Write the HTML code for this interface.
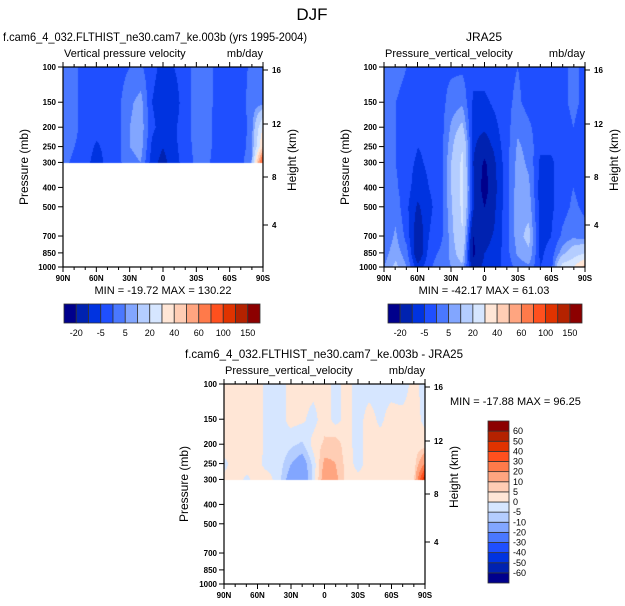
<!DOCTYPE html>
<html><head><meta charset="utf-8">
<style>
html,body{margin:0;padding:0;background:#fff;}
#root{position:relative;width:625px;height:606px;overflow:hidden;font-family:"Liberation Sans",sans-serif;}
canvas{position:absolute;}
svg{position:absolute;left:0;top:0;}
</style></head>
<body>
<div id="root">
<canvas id="c1" width="200" height="200" style="left:63px;top:67px"></canvas>
<canvas id="c2" width="201" height="200" style="left:384px;top:67px"></canvas>
<canvas id="c3" width="201" height="200" style="left:224px;top:384px"></canvas>
<svg id="ov" width="625" height="606"></svg>
</div>
<script>
const lats=[90,80,70,60,50,40,30,20,10,0,-10,-20,-30,-40,-50,-60,-70,-80,-90];
const presA=[100,150,200,250,300];
const modelVals=[
[2,1,-2,-2,-3,-2,0,1,-4,-6,-5,-2,2,2,-2,-3,-2,1,2],
[2,1,-2,-3,-3,-1,4,7,-5,-7,-8,-2,2,2,-2,-4,-2,2,3],
[2,1,-2,-3,-3,-1,5,8,-4,-7,-6,-2,2,2,-3,-4,-3,2,30],
[2,0,-2,-6,-3,-1,5,7,-6,-10,-6,-3,2,2,-3,-5,-3,3,40],
[1,-1,-3,-8,-3,-1,3,5,-8,-12,-7,-3,1,1,-3,-5,-2,5,80]];
const presB=[100,150,200,250,300,400,500,700,850,1000];
const obsVals=[
[1,1,0,-2,-2,-1,-1,-1,-3,-3,-2,-1,0,-2,-2,-1,-1,1,-1],
[1,0,-1,-3,-3,-2,2,4,-6,-6,-4,-1,1,-2,-3,-2,-1,1,-1],
[1,0,-2,-4,-4,-3,6,12,-8,-9,-6,-2,4,1,-3,-3,-2,0,-2],
[1,0,-2,-5,-4,-3,8,20,-9,-14,-8,-2,6,3,-4,-4,-2,0,-2],
[1,0,-3,-6,-4,-3,10,22,-10,-22,-10,-2,7,4,-6,-6,-2,0,-2],
[0,1,-3,-8,-5,-3,10,23,-9,-25,-11,-2,8,6,-7,-6,-2,0,-2],
[0,3,-4,-11,-6,-3,9,22,-9,-20,-10,-2,8,8,-7,-6,-2,1,-1],
[1,6,-2,-15,-5,-2,7,20,-20,-12,-9,-2,8,12,-7,-5,1,4,2],
[3,8,2,-16,-3,1,6,15,-22,-10,-8,-2,6,9,-6,-3,8,15,20],
[5,12,5,-8,-1,3,5,8,-14,-8,-7,-3,2,4,-5,-3,25,30,45]];
const diffVals=[
[2,2,2,2,-2,-2,2,2,2,3,-2,2,-2,-2,-2,-2,-3,2,-2],
[2,2,2,2,-2,-2,2,1,-2,3,-2,2,-2,2,-1,2,2,2,-1],
[2,2,2,2,-2,-1,-4,-6,2,6,8,2,-2,2,2,2,2,2,2],
[-1,2,2,1,-2,-3,-10,-15,-3,12,10,3,-2,2,2,2,2,1,20],
[1,2,-1,2,2,-4,-15,-18,-3,15,12,3,2,2,2,3,2,1,50]];
const levelsTop=[-20,-10,-5,0,5,10,20,30,40,50,60,80,100,120,150];
const levelsDiff=[-60,-50,-40,-30,-20,-10,-5,0,5,10,20,30,40,50,60];
const topLabels=["-20","-5","5","20","40","60","100","150"];
const colors=["#00008c","#0022b0","#0033e0","#1f4fff","#4a78ff","#82a6ff","#b4cdff","#d6e6ff","#ffe6d6","#ffcdb4","#ffa580","#ff7a4a","#ff501e","#e03300","#b42200","#8c0000"];
const xTicks=[90,60,30,0,-30,-60,-90];
const xTickLabels=["90N","60N","30N","0","30S","60S","90S"];
const pTicks=[100,150,200,250,300,400,500,700,850,1000];
const hTicks=[16,12,8,4];
const hTickOffsets=[3,57,110,158];

function rgb(h){return [parseInt(h.slice(1,3),16),parseInt(h.slice(3,5),16),parseInt(h.slice(5,7),16)];}
const rgbs=colors.map(rgb);
function yOf(p){return 200*Math.log10(p/100);}
function classify(v,levels){let i=0;while(i<levels.length&&v>=levels[i])i++;return i;}
function drawField(id,pres,vals,levels,W){
  const cv=document.getElementById(id),ctx=cv.getContext('2d');
  const img=ctx.createImageData(W,200);
  const lp=pres.map(p=>Math.log10(p));
  const pmax=pres[pres.length-1];
  const ymax=yOf(pmax);
  for(let y=0;y<200;y++){
    if(y>ymax+0.5)continue;
    const L=Math.log10(100)+y/200;
    let r=0;while(r<lp.length-2&&L>lp[r+1])r++;
    let fr=(L-lp[r])/(lp[r+1]-lp[r]);fr=Math.max(0,Math.min(1,fr));
    for(let x=0;x<W;x++){
      const fc=x/(W-1)*(lats.length-1);
      let c=Math.min(Math.floor(fc),lats.length-2);const fx=fc-c;
      const v=(vals[r][c]*(1-fx)+vals[r][c+1]*fx)*(1-fr)+(vals[r+1][c]*(1-fx)+vals[r+1][c+1]*fx)*fr;
      const col=rgbs[classify(v,levels)];
      const k=(y*W+x)*4;img.data[k]=col[0];img.data[k+1]=col[1];img.data[k+2]=col[2];img.data[k+3]=255;
    }
  }
  ctx.putImageData(img,0,0);
}
drawField('c1',presA,modelVals,levelsTop,200);
drawField('c2',presB,obsVals,levelsTop,201);
drawField('c3',presA,diffVals,levelsDiff,201);

const NS="http://www.w3.org/2000/svg";
const ov=document.getElementById('ov');
function el(tag,attrs,parent){const e=document.createElementNS(NS,tag);for(const k in attrs)e.setAttribute(k,attrs[k]);(parent||ov).appendChild(e);return e;}
function txt(s,x,y,size,anchor,extra){const t=el('text',Object.assign({x:x,y:y,'font-size':size,'text-anchor':anchor||'start',fill:'#000','font-family':'Liberation Sans, sans-serif'},extra||{}));t.textContent=s;return t;}

let t=txt("DJF",312,20,17,"middle");


function panel(name,x0,y0,w,title,tx,ty,tlen,sub,px){
  const g=el('g',{});
  
  
  const xs=lat=>x0+(90-lat)/180*w;
  const extra=tlen?{textLength:tlen,lengthAdjust:'spacingAndGlyphs'}:{};
  let tt=txt(title,tx,ty,12,"middle",extra);g.appendChild(tt);
  
  let s1=txt(sub,x0+1,y0-10,11,"start");g.appendChild(s1);
  
  let s2=txt("mb/day",x0+w,y0-10,11,"end");g.appendChild(s2);
  
  el('rect',{x:x0,y:y0,width:w,height:200,fill:'none',stroke:'#000','stroke-width':1.2},g);
  for(let lat=90;lat>=-90;lat-=10){
    const major=lat%30===0;const L=major?5:3;const x=xs(lat);
    el('line',{x1:x,y1:y0+200,x2:x,y2:y0+200+L,stroke:'#000','stroke-width':1},g);
    el('line',{x1:x,y1:y0,x2:x,y2:y0-L,stroke:'#000','stroke-width':1},g);
  }
  xTicks.forEach((lat,i)=>{const l=txt(xTickLabels[i],xs(lat),y0+214,8,"middle",{'font-weight':'bold'});g.appendChild(l);
    });
  pTicks.forEach(p=>{const y=y0+yOf(p);
    el('line',{x1:x0,y1:y,x2:x0-5,y2:y,stroke:'#000','stroke-width':1},g);
    const l=txt(String(p),x0-7,y+3,8,"end",{'font-weight':'bold'});g.appendChild(l);
    });
  hTicks.forEach((h,i)=>{const y=y0+hTickOffsets[i];
    el('line',{x1:x0+w,y1:y,x2:x0+w+5,y2:y,stroke:'#000','stroke-width':1},g);
    const l=txt(String(h),x0+w+9,y+3,8,"start",{'font-weight':'bold'});g.appendChild(l);
    });
  let yl=txt("Pressure (mb)",0,0,12,"middle",{transform:`translate(${px},${y0+100}) rotate(-90)`});g.appendChild(yl);
  
  let hl=txt("Height (km)",0,0,12,"middle",{transform:`translate(${x0+w+33},${y0+93}) rotate(-90)`});g.appendChild(hl);
  
  ov.appendChild(g);
}
panel('model-panel',63,67,200,"f.cam6_4_032.FLTHIST_ne30.cam7_ke.003b (yrs 1995-2004)",155,41,304,"Vertical pressure velocity",28);
panel('jra25-panel',384,67,201,"JRA25",484,41,0,"Pressure_vertical_velocity",349);
panel('diff-panel',224,384,201,"f.cam6_4_032.FLTHIST_ne30.cam7_ke.003b - JRA25",324,358,278,"Pressure_vertical_velocity",188);

let m1=txt("MIN = -19.72  MAX = 130.22",163,294,11,"middle",{'xml:space':'preserve'});

let m2=txt("MIN = -42.17  MAX =  61.03",484,294,11,"middle",{'xml:space':'preserve'});

let m3=txt("MIN = -17.88  MAX =  96.25",450,405,11,"start",{'xml:space':'preserve'});


function hbar(name,x0,w){
  const g=el('g',{});
  
  const bw=w/colors.length;
  colors.forEach((c,i)=>{const r=el('rect',{x:x0+i*bw,y:304,width:bw,height:19,fill:c,stroke:'#333','stroke-width':0.8},g);
    });
  topLabels.forEach((s,j)=>{const k=2*j+1;const l=txt(s,x0+k*bw,336,9,"middle");g.appendChild(l);
    });
  ov.appendChild(g);
}
hbar('model-colorbar',64,196);
hbar('jra25-colorbar',388,194);

(function(){
  const g=el('g',{});
  
  const x0=488,w=21,y1=583,h=162,bh=h/colors.length;
  colors.forEach((c,i)=>{const r=el('rect',{x:x0,y:y1-(i+1)*bh,width:w,height:bh,fill:c,stroke:'#333','stroke-width':0.8},g);
    });
  levelsDiff.forEach((v,i)=>{const l=txt(String(v),x0+w+4,y1-(i+1)*bh+3,9,"start");g.appendChild(l);
    });
  ov.appendChild(g);
})();
</script>
</body></html>
